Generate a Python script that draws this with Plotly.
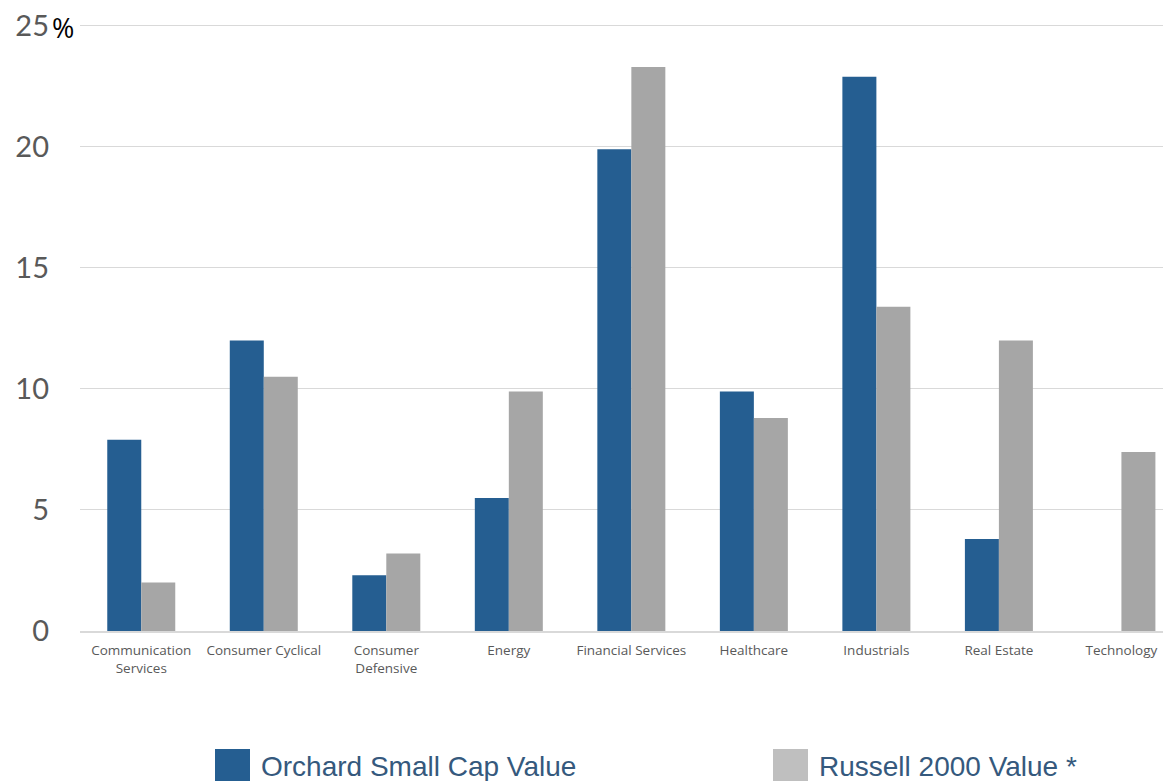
import plotly.graph_objects as go

categories = ["Communication<br>Services", "Consumer Cyclical", "Consumer<br>Defensive", "Energy",
              "Financial Services", "Healthcare", "Industrials", "Real Estate", "Technology"]
orchard = [7.9, 12.0, 2.3, 5.5, 19.9, 9.9, 22.9, 3.8, 0]
russell = [2.0, 10.5, 3.2, 9.9, 23.3, 8.8, 13.4, 12.0, 7.4]
series_names = ["Orchard Small Cap Value", "Russell 2000 Value *"]
y_ticks = [0, 5, 10, 15, 20, 25]

BLUE = "#255E91"
GRAY = "#A6A6A6"
GRAY_LEG = "#BFBFBF"

OFF = 8  # page body margin
W, H = 1171, 781
Y_TOP = 25.08
L, R_EDGE, T, B = 80 - OFF, 1171, 24 - OFF, 631 - OFF

def px_x(px):
    # px in screen coordinates
    return (px - OFF - L) / (R_EDGE - L)

def px_y(py):
    return (B - (py - OFF)) / (B - T)

fig = go.Figure()
fig.add_trace(go.Bar(x=categories, y=orchard, name=series_names[0],
                     marker=dict(color=BLUE, line=dict(width=0)), showlegend=False))
fig.add_trace(go.Bar(x=categories, y=russell, name=series_names[1],
                     marker=dict(color=GRAY, line=dict(width=0)), showlegend=False))

fig.update_layout(
    width=W, height=H,
    margin=dict(l=L, r=0, t=T, b=H - B),
    plot_bgcolor="white", paper_bgcolor="white",
    barmode="group", bargap=0.445, bargroupgap=0,
    xaxis=dict(range=[-0.5, 8.47], showgrid=False, showline=True, linecolor="#D9D9D9", linewidth=1.5,
               ticks="", tickfont=dict(family="Open Sans", size=13.5, color="#595959"), ticklabelstandoff=6),
    yaxis=dict(range=[0, Y_TOP], tickvals=y_ticks, ticktext=[str(v) for v in y_ticks], showgrid=True,
               gridcolor="#D9D9D9", gridwidth=1.2, zeroline=False, showline=False, ticks="",
               tickfont=dict(family="Lato", size=29, color="#595959"), ticklabelstandoff=30,
               ticklabeloverflow="allow"),
    showlegend=False,
)

# percent sign next to top tick
fig.add_annotation(text="%", xref="paper", yref="y", x=px_x(50), y=25, xanchor="left", yanchor="middle",
                   yshift=-2, showarrow=False, font=dict(family="Open Sans", size=27, color="#000000"))

# legend drawn manually
leg = [(215, BLUE, series_names[0]), (773, GRAY_LEG, series_names[1])]
for x0, col, name in leg:
    fig.add_shape(type="rect", xref="paper", yref="paper", x0=px_x(x0), x1=px_x(x0 + 35),
                  y0=px_y(782), y1=px_y(749), fillcolor=col, line=dict(width=0))
    fig.add_annotation(text=name, xref="paper", yref="paper", x=px_x(x0 + 44), y=px_y(766),
                       xanchor="left", yanchor="middle", showarrow=False,
                       font=dict(family="Liberation Sans", size=28, color="#35597D"))

fig.write_html("out.html")
